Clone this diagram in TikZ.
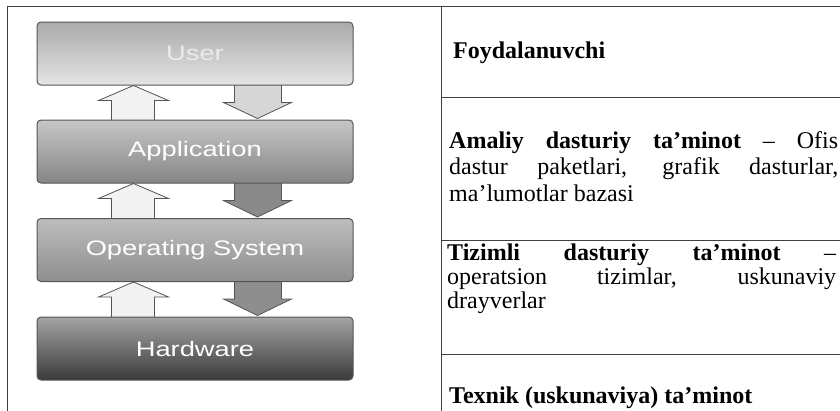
\documentclass[tikz,border=0pt]{standalone}
\usepackage{fontspec}
\setmainfont{Liberation Serif}
\newfontfamily\arialf{Liberation Sans}
\usetikzlibrary{calc,backgrounds}
\definecolor{usertop}{HTML}{ABABAB}
\definecolor{userbot}{HTML}{E4E4E4}
\definecolor{apptop}{HTML}{C6C6C6}
\definecolor{appbot}{HTML}{868686}
\definecolor{ostop}{HTML}{BDBDBD}
\definecolor{osbot}{HTML}{8E8E8E}
\definecolor{hwtop}{HTML}{A4A4A4}
\definecolor{hwbot}{HTML}{3A3A3A}
\definecolor{arrlight}{HTML}{D6D6D6}
\definecolor{arrdarka}{HTML}{8A8A8A}
\definecolor{arrdarkb}{HTML}{8E8E8E}
\definecolor{uparrfill}{HTML}{F2F2F2}
\definecolor{edgegray}{HTML}{555555}
\begin{document}
\begin{tikzpicture}[x=1pt,y=-1pt]
\tikzset{
 layer/.style={draw=edgegray, line width=1pt, rounded corners=4pt,
   minimum width=316pt, minimum height=63pt, inner sep=0pt, text=white,
   font=\arialf\fontsize{21}{21}\selectfont},
 uparr/.style={draw=edgegray, line width=0.8pt, fill=uparrfill},
 downarr/.style={draw=edgegray, line width=0.8pt},
 rule/.style={draw=black!75, line width=0.8pt},
 txt/.style={anchor=base west, inner sep=0pt, font=\fontsize{24}{27}\selectfont},
}
\useasboundingbox (0,0) rectangle (840,410);
\clip (0,0) rectangle (840,410);

% layer boxes
\node[layer, top color=usertop, bottom color=userbot, text=white!92!black] (user) at (195,53.5)
  {\raisebox{-4pt}{\scalebox{1.3}[1]{User}}};
\node[layer, top color=apptop, bottom color=appbot] (app) at (195,151.5)
  {\raisebox{-3pt}{\scalebox{1.3}[1]{Application}}};
\node[layer, top color=ostop, bottom color=osbot] (os) at (195,250)
  {\raisebox{-3pt}{\scalebox{1.3}[1]{Operating System}}};
\node[layer, top color=hwtop, bottom color=hwbot] (hw) at (195,348.5)
  {\raisebox{-2pt}{\scalebox{1.3}[1]{Hardware}}};

% block arrows between layers
\begin{scope}[on background layer]
\foreach \a/\b/\c in {user/app/arrlight, app/os/arrdarka, os/hw/arrdarkb}{
  \coordinate (t) at (\a.south west);
  \coordinate (bt) at (\b.north west);
  \draw[uparr] ($(bt)+(75,3)$) -- ($(t)+(75,15)$) -- ($(t)+(62,15)$)
     -- ($(t)+(97,0)$) -- ($(t)+(132,15)$) -- ($(t)+(118,15)$)
     -- ($(bt)+(118,3)$) -- cycle;
  \draw[downarr, fill=\c] ($(t)+(198,-3)$) -- ($(t)+(198,17)$) -- ($(t)+(187,17)$)
     -- ($(bt)+(221,-1)$) -- ($(t)+(255,17)$) -- ($(t)+(245,17)$)
     -- ($(t)+(245,-3)$) -- cycle;
}
\end{scope}

% table rules
\draw[rule] (7,412) -- (7,6) -- (840,6);
\draw[rule] (441,6) -- (441,412);
\draw[rule] (441,97) -- (840,97);
\draw[rule] (441,240) -- (840,240);
\draw[rule] (441,354) -- (840,354);

% right column texts
\node[txt] (t1) at (453,58) {\textbf{Foydalanuvchi}};
\node[txt] (t2a) at (449,148) {\makebox[389pt][s]{\textbf{Amaliy dasturiy ta’minot} – Ofis}};
\node[txt] (t2b) at (449,174) {\makebox[389pt][s]{dastur paketlari, grafik dasturlar,}};
\node[txt] (t2c) at (449,201) {ma’lumotlar bazasi};
\node[txt] (t3a) at (447,260) {\makebox[389pt][s]{\textbf{Tizimli dasturiy ta’minot} –}};
\node[txt] (t3b) at (447,284) {\makebox[389pt][s]{operatsion tizimlar, uskunaviy}};
\node[txt] (t3c) at (447,308) {drayverlar};
\node[txt] (t4) at (449,403) {\textbf{Texnik (uskunaviya) ta’minot}};
\end{tikzpicture}
\end{document}
